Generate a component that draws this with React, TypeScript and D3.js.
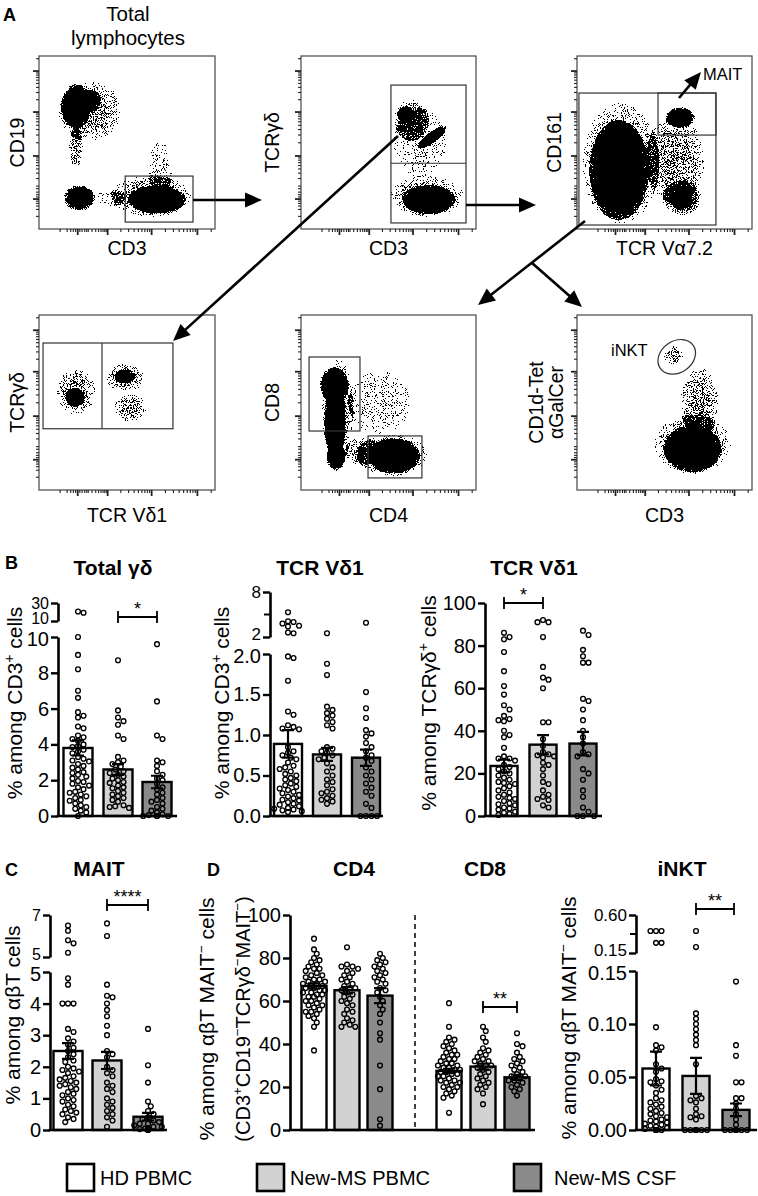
import React, { useRef, useEffect } from "react";
import * as d3 from "d3";

const FONT = "'Liberation Sans', Arial, Helvetica, sans-serif";

// ---- groups / legend ----
const groupNames = ["HD PBMC", "New-MS PBMC", "New-MS CSF"];
const groupFill = ["#ffffff", "#d2d2d2", "#8a8a8a"];

// ---- B: Total γδ (% among CD3+) ----
const gdTotalMean = [3.8, 2.6, 1.9];
const gdTotalSem = [0.42, 0.3, 0.35];
const gdTotalHD = [20.5, 19.2, 10.0, 9.0, 8.2, 7.0, 6.6, 5.8, 5.6, 5.5, 5.0, 4.9, 4.5, 4.4, 4.3, 4.2, 4.0, 3.9, 3.85, 3.7, 3.6, 3.5, 3.3, 3.2, 3.1, 3.05, 2.9, 2.8, 2.7, 2.6, 2.45, 2.4, 2.3, 2.2, 2.1, 1.95, 1.9, 1.8, 1.7, 1.6, 1.5, 1.35, 1.3, 1.2, 1.1, 1.0, 0.9, 0.85, 0.7, 0.6, 0.5, 0.4, 0.3, 0.2, 0.0];
const gdTotalPBMC = [8.7, 5.9, 5.5, 5.3, 5.1, 4.5, 4.3, 3.3, 3.1, 3.0, 2.9, 2.75, 2.6, 2.5, 2.4, 2.3, 2.2, 2.1, 2.0, 1.9, 1.85, 1.7, 1.6, 1.55, 1.4, 1.3, 1.2, 1.1, 1.0, 0.9, 0.8, 0.6, 0.55, 0.5, 0.45];
const gdTotalCSF = [9.6, 6.4, 4.5, 4.3, 3.1, 3.0, 2.8, 2.5, 2.3, 2.1, 2.0, 1.8, 1.6, 1.5, 1.3, 1.2, 1.0, 0.9, 0.8, 0.7, 0.5, 0.4, 0.3, 0.2, 0.1, 0.05, 0, 0, 0, 0];

// ---- B: TCR Vδ1 (% among CD3+) ----
const vd1Cd3Mean = [0.89, 0.76, 0.72];
const vd1Cd3Sem = [0.17, 0.08, 0.1];
const vd1Cd3HD = [5.3, 4.1, 4.0, 3.8, 3.5, 3.4, 2.6, 2.5, 1.97, 1.95, 1.67, 1.29, 1.25, 1.12, 1.1, 1.08, 1.07, 0.85, 0.8, 0.78, 0.75, 0.72, 0.7, 0.66, 0.62, 0.6, 0.58, 0.55, 0.52, 0.5, 0.47, 0.45, 0.43, 0.4, 0.38, 0.36, 0.34, 0.32, 0.3, 0.28, 0.26, 0.24, 0.22, 0.2, 0.19, 0.17, 0.15, 0.14, 0.12, 0.1, 0.09, 0.08, 0.07, 0.06, 0.05];
const vd1Cd3PBMC = [2.5, 1.88, 1.74, 1.35, 1.31, 1.27, 1.24, 1.2, 1.16, 1.12, 1.08, 0.85, 0.83, 0.8, 0.78, 0.75, 0.72, 0.7, 0.65, 0.6, 0.55, 0.5, 0.45, 0.42, 0.38, 0.33, 0.3, 0.28, 0.25, 0.22, 0.2, 0.18, 0.15];
const vd1Cd3CSF = [3.9, 1.53, 1.33, 1.21, 1.06, 1.02, 0.98, 0.9, 0.85, 0.8, 0.75, 0.72, 0.68, 0.6, 0.55, 0.5, 0.45, 0.4, 0.35, 0.3, 0.25, 0.15, 0.1, 0, 0, 0, 0];

// ---- B: TCR Vδ1 (% among TCRγδ+) ----
const vd1GdMean = [23.5, 33.5, 34];
const vd1GdSem = [3, 4.5, 5.5];
const vd1GdHD = [86, 84, 83, 77, 68, 61, 57, 52, 50, 47, 45.5, 45, 44.5, 40, 38, 37, 32, 28, 27, 27, 26, 24, 23, 22, 21, 20, 19, 18, 17, 16, 15.5, 15, 14, 13, 12, 11, 10, 9, 8.5, 8, 7, 6, 5.5, 5, 4, 3.5, 3, 2, 1.5, 1, 0.5];
const vd1GdPBMC = [92, 91, 91, 84, 70, 65, 64, 60, 44, 44, 36, 33, 30, 29, 28.5, 28, 27.5, 25, 24, 22, 19, 16, 15, 12, 10, 9, 8, 7.5, 5, 4];
const vd1GdCSF = [87, 85, 78, 75, 72, 72, 55, 54, 50, 45, 40, 37, 34, 30, 29, 28, 22, 20, 17, 12, 9, 4, 2, 0, 0, 0];

// ---- C: MAIT (% among αβT) ----
const maitMean = [2.5, 2.2, 0.42];
const maitSem = [0.25, 0.27, 0.12];
const maitHD = [6.5, 6.25, 5.8, 5.65, 5.2, 4.8, 4.6, 4.0, 4.0, 4.0, 3.2, 3.1, 2.9, 2.8, 2.7, 2.6, 2.5, 2.4, 2.3, 2.2, 2.15, 2.0, 1.95, 1.9, 1.85, 1.8, 1.7, 1.65, 1.6, 1.55, 1.5, 1.45, 1.4, 1.35, 1.3, 1.2, 1.15, 1.1, 1.0, 0.95, 0.9, 0.8, 0.75, 0.65, 0.6, 0.55, 0.5, 0.4, 0.35, 0.25];
const maitPBMC = [6.6, 6.0, 4.6, 4.25, 4.2, 4.0, 3.8, 3.6, 3.3, 3.0, 2.5, 2.4, 2.3, 2.0, 1.9, 1.8, 1.7, 1.5, 1.4, 1.3, 1.2, 1.0, 0.9, 0.8, 0.7, 0.6, 0.5, 0.4, 0.3, 0.1];
const maitCSF = [3.2, 2.05, 1.5, 0.9, 0.75, 0.6, 0.5, 0.4, 0.35, 0.3, 0.25, 0.2, 0.2, 0.15, 0.1, 0.1, 0.05, 0.05, 0.03, 0.02, 0, 0];

// ---- D: CD4 / CD8 (% among αβT MAIT-) ----
const cd4Mean = [67, 65, 62.5];
const cd4Sem = [1.2, 1.5, 3.5];
const cd4HD = [89, 84, 82, 80, 79, 78, 77, 76, 75, 75, 74, 73, 72, 72, 71, 70, 70, 69, 69, 68, 68, 67, 67, 66, 66, 65, 65, 64, 64, 63, 63, 62, 62, 61, 60, 60, 59, 58, 58, 57, 56, 55, 55, 54, 53, 52, 50, 48, 37];
const cd4PBMC = [85, 77, 76, 76, 75, 74, 73, 72, 71, 70, 69, 68, 67, 66, 66, 65, 64, 63, 62, 61, 60, 59, 58, 56, 55, 54, 52, 51, 50, 49, 48, 48];
const cd4CSF = [82, 80, 79, 78, 77, 76, 75, 74, 73, 72, 71, 70, 69, 68, 66, 65, 64, 62, 60, 58, 56, 54, 50, 45, 42, 30, 19, 5, 2];
const cd8Mean = [27.5, 29.5, 24.5];
const cd8Sem = [1.0, 1.4, 1.2];
const cd8HD = [59, 48, 43, 42, 41, 40, 39, 38, 37, 36, 35, 35, 34, 33, 33, 32, 31, 31, 30, 30, 29, 29, 28, 28, 27, 27, 26, 26, 25, 25, 24, 23, 23, 22, 22, 21, 20, 20, 19, 18, 17, 16, 15, 8];
const cd8PBMC = [48, 46, 43, 41, 38, 37, 36, 35, 34, 33, 32, 32, 31, 30, 30, 29, 28, 27, 26, 25, 24, 23, 22, 21, 20, 19, 17, 12];
const cd8CSF = [45, 40, 39, 36, 34, 33, 32, 31, 30, 29, 28, 27, 26, 25, 25, 24, 23, 23, 22, 21, 20, 19, 18, 16];

// ---- D: iNKT (% among αβT MAIT-) ----
const inktMean = [0.058, 0.051, 0.019];
const inktSem = [0.016, 0.017, 0.006];
const inktHD = [0.41, 0.41, 0.41, 0.27, 0.27, 0.097, 0.08, 0.078, 0.075, 0.062, 0.058, 0.055, 0.048, 0.046, 0.045, 0.042, 0.038, 0.035, 0.03, 0.028, 0.026, 0.024, 0.022, 0.02, 0.018, 0.016, 0.015, 0.013, 0.012, 0.01, 0.009, 0.008, 0.007, 0.006, 0.005, 0.004, 0.003, 0.002, 0.001, 0, 0, 0, 0, 0];
const inktPBMC = [0.41, 0.22, 0.11, 0.105, 0.1, 0.095, 0.09, 0.085, 0.08, 0.062, 0.032, 0.03, 0.028, 0.026, 0.02, 0.015, 0.013, 0.012, 0.01, 0, 0, 0, 0, 0, 0, 0, 0, 0];
const inktCSF = [0.14, 0.08, 0.07, 0.045, 0.045, 0.03, 0.03, 0.025, 0.02, 0.015, 0.01, 0.005, 0, 0, 0, 0, 0, 0, 0, 0, 0];

// ---- A: flow populations (fractions of each plot, y from bottom) ----
type Pop = { x: number; y: number; rx: number; ry: number; rot?: number; k: "d" | "m" | "s" | "f" };
const cd19Pops: Pop[] = [
  { x: 0.29, y: 0.68, rx: 0.18, ry: 0.17, rot: -15, k: "s" },
  { x: 0.21, y: 0.47, rx: 0.04, ry: 0.12, k: "s" },
  { x: 0.21, y: 0.71, rx: 0.085, ry: 0.13, k: "d" },
  { x: 0.29, y: 0.74, rx: 0.06, ry: 0.065, k: "m" },
  { x: 0.23, y: 0.18, rx: 0.09, ry: 0.075, k: "d" },
  { x: 0.64, y: 0.19, rx: 0.23, ry: 0.12, k: "s" },
  { x: 0.69, y: 0.35, rx: 0.07, ry: 0.15, k: "f" },
  { x: 0.41, y: 0.18, rx: 0.08, ry: 0.05, k: "f" },
  { x: 0.67, y: 0.17, rx: 0.165, ry: 0.08, k: "d" },
];
const gdCd3Pops: Pop[] = [
  { x: 0.72, y: 0.19, rx: 0.21, ry: 0.12, k: "s" },
  { x: 0.73, y: 0.17, rx: 0.15, ry: 0.085, k: "d" },
  { x: 0.68, y: 0.5, rx: 0.15, ry: 0.2, k: "f" },
  { x: 0.63, y: 0.63, rx: 0.1, ry: 0.12, k: "s" },
  { x: 0.6, y: 0.66, rx: 0.05, ry: 0.05, k: "m" },
  { x: 0.75, y: 0.53, rx: 0.1, ry: 0.032, rot: -36, k: "d" },
];
const maitPops: Pop[] = [
  { x: 0.25, y: 0.38, rx: 0.22, ry: 0.35, k: "s" },
  { x: 0.56, y: 0.4, rx: 0.17, ry: 0.25, k: "s" },
  { x: 0.24, y: 0.34, rx: 0.17, ry: 0.29, k: "d" },
  { x: 0.59, y: 0.645, rx: 0.085, ry: 0.06, k: "d" },
  { x: 0.6, y: 0.18, rx: 0.11, ry: 0.1, k: "m" },
  { x: 0.6, y: 0.17, rx: 0.06, ry: 0.05, k: "d" },
];
const vd1Pops: Pop[] = [
  { x: 0.21, y: 0.56, rx: 0.11, ry: 0.13, k: "s" },
  { x: 0.205, y: 0.53, rx: 0.055, ry: 0.055, k: "d" },
  { x: 0.49, y: 0.64, rx: 0.11, ry: 0.08, k: "s" },
  { x: 0.49, y: 0.65, rx: 0.06, ry: 0.04, k: "m" },
  { x: 0.52, y: 0.47, rx: 0.09, ry: 0.08, k: "s" },
];
const cd4cd8Pops: Pop[] = [
  { x: 0.21, y: 0.45, rx: 0.09, ry: 0.3, k: "s" },
  { x: 0.35, y: 0.22, rx: 0.1, ry: 0.08, k: "s" },
  { x: 0.52, y: 0.2, rx: 0.2, ry: 0.12, k: "s" },
  { x: 0.45, y: 0.5, rx: 0.18, ry: 0.18, k: "f" },
  { x: 0.19, y: 0.6, rx: 0.085, ry: 0.1, k: "d" },
  { x: 0.195, y: 0.39, rx: 0.06, ry: 0.22, k: "d" },
  { x: 0.2, y: 0.19, rx: 0.055, ry: 0.08, k: "d" },
  { x: 0.53, y: 0.195, rx: 0.15, ry: 0.1, k: "d" },
];
const nktPops: Pop[] = [
  { x: 0.66, y: 0.26, rx: 0.22, ry: 0.17, k: "s" },
  { x: 0.7, y: 0.5, rx: 0.11, ry: 0.2, k: "s" },
  { x: 0.55, y: 0.77, rx: 0.055, ry: 0.055, k: "s" },
  { x: 0.66, y: 0.235, rx: 0.165, ry: 0.135, k: "d" },
];

// flow axis decades (fraction of plot)
const flowMajorX = [0.22, 0.39, 0.64, 0.9];
const flowMajorY = [0.173, 0.422, 0.676, 0.913];

type Gate =
  | { t: "rect"; x: [number, number]; y: [number, number] }
  | { t: "line"; x: [number, number]; y: [number, number] }
  | { t: "ellipse"; cx: number; cy: number; rx: number; ry: number; rot: number };

type Flow = {
  x0: number; y0: number; w: number; h: number;
  pops: Pop[]; gates: Gate[];
  xLabel: string; xLabelY: number;
  yLabel: string[]; yLabelX: number[];
};

type Seg = { domain: [number, number]; range: [number, number]; ticks: number[]; fmt: string; minor?: number[]; size?: number };
type BarSet = { centers: number[]; means: number[]; sems: number[]; points: number[][] };
type Sig = { a: number; b: number; y: number; label: string };
type Panel = { axisX: number; baseY: number; xEnd: number; barW: number; lower: Seg; upper?: Seg; sets: BarSet[]; sigs: Sig[] };

type Sel = d3.Selection<any, any, any, any>;
type Part = [string, ("sup" | "norm")?];

function rich(t: Sel, parts: Part[], size: number) {
  let shift = 0;
  parts.forEach(([s, k]) => {
    const target = k === "sup" ? -0.4 * size : 0;
    t.append("tspan")
      .attr("dy", target - shift)
      .attr("font-size", k === "sup" ? size * 0.66 : size)
      .text(s);
    shift = target;
  });
}

function vLabel(svg: Sel, cx: number, cy: number, parts: Part[], size: number) {
  const t = svg
    .append("text")
    .attr("transform", `translate(${cx},${cy}) rotate(-90)`)
    .attr("y", size * 0.35)
    .attr("text-anchor", "middle")
    .attr("font-size", size);
  rich(t, parts, size);
}

function swarm(vals: number[], yOf: (v: number) => number, cx: number, r: number, half: number) {
  const placed: [number, number][] = [];
  const step = r * 1.15;
  [...vals].sort((a, b) => b - a).forEach((v) => {
    const y = yOf(v);
    let best = cx;
    for (let k = 0; k < 30; k++) {
      const off = k === 0 ? 0 : Math.ceil(k / 2) * step * (k % 2 ? 1 : -1);
      if (Math.abs(off) > half) continue;
      const x = cx + off;
      if (placed.every(([px, py]) => Math.hypot(px - x, py - y) >= 2 * r + 0.3)) {
        best = x;
        break;
      }
    }
    placed.push([best, y]);
  });
  return placed;
}

function drawPanel(root: Sel, p: Panel) {
  const lower = d3.scaleLinear().domain(p.lower.domain).range(p.lower.range);
  const upper = p.upper ? d3.scaleLinear().domain(p.upper.domain).range(p.upper.range) : null;
  const yOf = (v: number) => (upper && v > p.lower.domain[1] ? upper(v) : lower(v));
  const g = root.append("g");

  // bars
  p.sets.forEach((s) =>
    s.means.forEach((m, i) => {
      g.append("rect")
        .attr("x", s.centers[i] - p.barW / 2)
        .attr("y", yOf(m))
        .attr("width", p.barW)
        .attr("height", p.baseY - yOf(m))
        .attr("fill", groupFill[i])
        .attr("stroke", "#000")
        .attr("stroke-width", 2.4);
    })
  );
  // individual values
  p.sets.forEach((s) =>
    s.points.forEach((vals, i) => {
      swarm(vals, yOf, s.centers[i], 2.4, p.barW / 2 + 1).forEach(([cx, cy]) =>
        g.append("circle")
          .attr("cx", cx)
          .attr("cy", cy)
          .attr("r", 2.4)
          .attr("fill", "none")
          .attr("stroke", "#000")
          .attr("stroke-width", 1.35)
      );
    })
  );
  // mean ± sem
  p.sets.forEach((s) =>
    s.means.forEach((m, i) => {
      const cx = s.centers[i];
      const top = yOf(m + s.sems[i]);
      const bot = yOf(Math.max(0, m - s.sems[i]));
      g.append("path")
        .attr("d", `M${cx},${top}V${bot}M${cx - 6},${top}H${cx + 6}M${cx - 6},${bot}H${cx + 6}`)
        .attr("stroke", "#000")
        .attr("stroke-width", 2.2)
        .attr("fill", "none");
    })
  );

  // y axis (possibly broken): the labels next to the break are nudged apart
  const axis = (sc: d3.ScaleLinear<number, number>, seg: Seg, nudge: number, nudgeValue: number) => {
    const ax = g
      .append("g")
      .attr("transform", `translate(${p.axisX},0)`)
      .call(
        d3.axisLeft(sc)
          .tickValues(seg.ticks)
          .tickFormat(d3.format(seg.fmt) as any)
          .tickSize(7)
          .tickSizeOuter(0)
          .tickPadding(2)
      );
    ax.attr("font-size", seg.size || 20).attr("font-family", FONT);
    ax.select(".domain").attr("stroke-width", 2.6);
    ax.selectAll(".tick line").attr("stroke-width", 2.4);
    if (nudge) ax.selectAll<SVGGElement, number>(".tick").filter((d) => d === nudgeValue).select("text").attr("y", nudge);
    (seg.minor || []).forEach((v) =>
      ax.append("line")
        .attr("x1", -6)
        .attr("x2", 0)
        .attr("y1", sc(v))
        .attr("y2", sc(v))
        .attr("stroke", "#000")
        .attr("stroke-width", 2)
    );
  };
  axis(lower, p.lower, upper ? 2 : 0, p.lower.domain[1]);
  if (upper && p.upper) axis(upper, p.upper, -3, p.upper.domain[0]);

  g.append("line")
    .attr("x1", p.axisX - 1.3)
    .attr("x2", p.xEnd)
    .attr("y1", p.baseY)
    .attr("y2", p.baseY)
    .attr("stroke", "#000")
    .attr("stroke-width", 2.6);

  p.sigs.forEach((s) => {
    g.append("path")
      .attr("d", `M${s.a},${s.y - 6}V${s.y + 6}M${s.a},${s.y}H${s.b}M${s.b},${s.y - 6}V${s.y + 6}`)
      .attr("stroke", "#000")
      .attr("stroke-width", 1.8)
      .attr("fill", "none");
    g.append("text")
      .attr("x", (s.a + s.b) / 2)
      .attr("y", s.y - 2)
      .attr("text-anchor", "middle")
      .attr("font-size", 18)
      .text(s.label);
  });
}

function flowTicks(major: number[]) {
  const minor: number[] = [];
  for (let i = 0; i < major.length - 1; i++) {
    const a = major[i];
    const b = major[i + 1];
    for (let k = 2; k < 10; k++) minor.push(a + (b - a) * Math.log10(k));
  }
  const a0 = major[0];
  [-0.1, -0.06, -0.04, -0.025, -0.012, 0.012, 0.025, 0.04, 0.06].forEach((o) => minor.push(a0 + o));
  const last = major[major.length - 1];
  const span = last - major[major.length - 2];
  for (let k = 2; k < 10; k++) {
    const v = last + span * Math.log10(k);
    if (v < 0.99) minor.push(v);
  }
  return minor.filter((v) => v > 0.01 && v < 0.99);
}

function drawFlow(svg: Sel, defs: Sel, f: Flow, idx: number) {
  const x = d3.scaleLinear().domain([0, 1]).range([f.x0, f.x0 + f.w]);
  const y = d3.scaleLinear().domain([0, 1]).range([f.y0 + f.h, f.y0]);
  const clipId = `flowclip${idx}`;
  defs.append("clipPath").attr("id", clipId)
    .append("rect").attr("x", f.x0).attr("y", f.y0).attr("width", f.w).attr("height", f.h);

  const cloud = svg.append("g").attr("clip-path", `url(#${clipId})`)
    .append("g").attr("filter", "url(#speckle)");
  cloud.append("rect").attr("x", f.x0).attr("y", f.y0).attr("width", f.w).attr("height", f.h).attr("fill", "#000").attr("fill-opacity", 0.001);
  f.pops.forEach((p) => {
    const cx = x(p.x);
    const cy = y(p.y);
    cloud.append("ellipse")
      .attr("cx", cx)
      .attr("cy", cy)
      .attr("rx", p.rx * f.w)
      .attr("ry", p.ry * f.h)
      .attr("transform", p.rot ? `rotate(${p.rot},${cx},${cy})` : null)
      .attr("fill", `url(#pop-${p.k})`);
  });

  // gates
  f.gates.forEach((gt) => {
    const base = svg.append("g").attr("fill", "none").attr("stroke", "#333").attr("stroke-width", 1.2);
    if (gt.t === "rect") {
      base.append("rect")
        .attr("x", x(gt.x[0]))
        .attr("y", y(gt.y[1]))
        .attr("width", x(gt.x[1]) - x(gt.x[0]))
        .attr("height", y(gt.y[0]) - y(gt.y[1]));
    } else if (gt.t === "line") {
      base.append("line").attr("x1", x(gt.x[0])).attr("x2", x(gt.x[1])).attr("y1", y(gt.y[0])).attr("y2", y(gt.y[1]));
    } else {
      base.append("ellipse")
        .attr("cx", x(gt.cx))
        .attr("cy", y(gt.cy))
        .attr("rx", gt.rx * f.w)
        .attr("ry", gt.ry * f.h)
        .attr("transform", `rotate(${gt.rot},${x(gt.cx)},${y(gt.cy)})`);
    }
  });

  // frame
  svg.append("rect")
    .attr("x", f.x0).attr("y", f.y0).attr("width", f.w).attr("height", f.h)
    .attr("fill", "none").attr("stroke", "#555").attr("stroke-width", 1.3);

  // ticks
  const tk = svg.append("g").attr("stroke", "#222").attr("stroke-width", 1.1);
  flowMajorY.forEach((v) => tk.append("line").attr("x1", f.x0 - 6).attr("x2", f.x0).attr("y1", y(v)).attr("y2", y(v)).attr("stroke-width", 1.8));
  flowTicks(flowMajorY).forEach((v) => tk.append("line").attr("x1", f.x0 - 3).attr("x2", f.x0).attr("y1", y(v)).attr("y2", y(v)));
  flowMajorX.forEach((v) => tk.append("line").attr("x1", x(v)).attr("x2", x(v)).attr("y1", f.y0 + f.h).attr("y2", f.y0 + f.h + 6).attr("stroke-width", 1.8));
  flowTicks(flowMajorX).forEach((v) => tk.append("line").attr("x1", x(v)).attr("x2", x(v)).attr("y1", f.y0 + f.h).attr("y2", f.y0 + f.h + 3));

  // labels
  svg.append("text")
    .attr("x", f.x0 + f.w / 2)
    .attr("y", f.xLabelY)
    .attr("text-anchor", "middle")
    .attr("font-size", 19.5)
    .text(f.xLabel);
  f.yLabel.forEach((s, i) => vLabel(svg, f.yLabelX[i], f.y0 + f.h / 2, [[s]], 19.5));
}

function arrow(svg: Sel, x1: number, y1: number, x2: number, y2: number) {
  const len = Math.hypot(x2 - x1, y2 - y1);
  const ux = (x2 - x1) / len;
  const uy = (y2 - y1) / len;
  const hl = 17;
  const hw = 7.5;
  const bx = x2 - ux * hl;
  const by = y2 - uy * hl;
  svg.append("line")
    .attr("x1", x1).attr("y1", y1).attr("x2", bx + ux * 2).attr("y2", by + uy * 2)
    .attr("stroke", "#000").attr("stroke-width", 2.6);
  svg.append("path")
    .attr("d", `M${x2},${y2}L${bx - uy * hw},${by + ux * hw}L${bx + uy * hw},${by - ux * hw}Z`)
    .attr("fill", "#000");
}

export default function App() {
  const svgRef = useRef<SVGSVGElement>(null);

  useEffect(() => {
    const svg = d3.select(svgRef.current) as unknown as Sel;
    svg.selectAll("*").remove();
    const defs = svg.append("defs");

    // density gradients for flow populations
    const grads: Record<string, [number, number][]> = {
      d: [[0, 1], [0.6, 1], [0.85, 0.62], [1, 0.38]],
      m: [[0, 0.72], [0.6, 0.6], [1, 0.38]],
      s: [[0, 0.5], [0.6, 0.46], [1, 0.34]],
      f: [[0, 0.4], [1, 0.33]],
    };
    Object.entries(grads).forEach(([k, stops]) => {
      const rg = defs.append("radialGradient").attr("id", `pop-${k}`);
      stops.forEach(([o, a]) => rg.append("stop").attr("offset", o).attr("stop-color", "#000").attr("stop-opacity", a));
    });
    const flt = defs.append("filter").attr("id", "speckle").attr("x", 0).attr("y", 0).attr("width", 1).attr("height", 1)
      .attr("color-interpolation-filters", "sRGB");
    flt.append("feTurbulence").attr("type", "fractalNoise").attr("baseFrequency", 1.1).attr("numOctaves", 2).attr("seed", 4).attr("result", "noise");
    flt.append("feColorMatrix").attr("in", "noise").attr("type", "matrix")
      .attr("values", "0 0 0 0 0  0 0 0 0 0  0 0 0 0 0  1 0 0 0 0").attr("result", "na");
    flt.append("feComposite").attr("in", "SourceGraphic").attr("in2", "na").attr("operator", "arithmetic")
      .attr("k1", 0).attr("k2", 1).attr("k3", -1).attr("k4", 0.5).attr("result", "diff");
    const ct = flt.append("feComponentTransfer").attr("in", "diff").attr("result", "bin");
    ct.append("feFuncA").attr("type", "discrete").attr("tableValues", "0 1");
    flt.append("feColorMatrix").attr("in", "bin").attr("type", "matrix")
      .attr("values", "0 0 0 0 0  0 0 0 0 0  0 0 0 0 0  0 0 0 1 0");

    // ---------- A ----------
    const flows: Flow[] = [
      {
        x0: 39, y0: 56, w: 176, h: 173, pops: cd19Pops,
        gates: [{ t: "rect", x: [0.49, 0.875], y: [0.04, 0.306] }],
        xLabel: "CD3", xLabelY: 255, yLabel: ["CD19"], yLabelX: [17],
      },
      {
        x0: 301, y0: 56, w: 175, h: 173, pops: gdCd3Pops,
        gates: [
          { t: "rect", x: [0.514, 0.943], y: [0.035, 0.832] },
          { t: "line", x: [0.514, 0.943], y: [0.38, 0.38] },
        ],
        xLabel: "CD3", xLabelY: 255, yLabel: ["TCRγδ"], yLabelX: [272],
      },
      {
        x0: 577, y0: 56, w: 175, h: 173, pops: maitPops,
        gates: [
          { t: "rect", x: [0.011, 0.794], y: [0.023, 0.786] },
          { t: "rect", x: [0.463, 0.794], y: [0.543, 0.786] },
        ],
        xLabel: "TCR Vα7.2", xLabelY: 255, yLabel: ["CD161"], yLabelX: [554],
      },
      {
        x0: 39, y0: 315, w: 176, h: 175, pops: vd1Pops,
        gates: [
          { t: "rect", x: [0.023, 0.761], y: [0.35, 0.84] },
          { t: "line", x: [0.358, 0.358], y: [0.35, 0.84] },
        ],
        xLabel: "TCR Vδ1", xLabelY: 522, yLabel: ["TCRγδ"], yLabelX: [17],
      },
      {
        x0: 301, y0: 315, w: 175, h: 175, pops: cd4cd8Pops,
        gates: [
          { t: "rect", x: [0.046, 0.337], y: [0.337, 0.76] },
          { t: "rect", x: [0.383, 0.691], y: [0.069, 0.309] },
        ],
        xLabel: "CD4", xLabelY: 522, yLabel: ["CD8"], yLabelX: [272],
      },
      {
        x0: 577, y0: 315, w: 175, h: 175, pops: nktPops,
        gates: [{ t: "ellipse", cx: 0.57, cy: 0.761, rx: 0.115, ry: 0.09, rot: -35 }],
        xLabel: "CD3", xLabelY: 522, yLabel: ["CD1d-Tet", "αGalCer"], yLabelX: [536, 556],
      },
    ];
    flows.forEach((f, i) => drawFlow(svg, defs, f, i));

    const txt = (x: number, y: number, s: string, size: number, opts: { anchor?: string; bold?: boolean } = {}) =>
      svg.append("text")
        .attr("x", x)
        .attr("y", y)
        .attr("font-size", size)
        .attr("text-anchor", opts.anchor || "start")
        .attr("font-weight", opts.bold ? "bold" : null)
        .text(s);

    txt(3, 21, "A", 18, { bold: true });
    txt(128, 21, "Total", 20.5, { anchor: "middle" });
    txt(128, 45, "lymphocytes", 20.5, { anchor: "middle" });
    txt(703, 80, "MAIT", 16.5);
    txt(611, 356, "iNKT", 16.5);

    arrow(svg, 193, 200, 262, 200);
    arrow(svg, 398, 136, 173, 341);
    arrow(svg, 466, 205, 536, 205);
    arrow(svg, 585, 221, 478, 305);
    arrow(svg, 532, 263, 582, 307);
    arrow(svg, 679, 98, 701, 72);

    // ---------- B ----------
    txt(5, 569, "B", 18, { bold: true });
    txt(113, 575, "Total γδ", 21, { anchor: "middle", bold: true });
    txt(320, 575, "TCR Vδ1", 21, { anchor: "middle", bold: true });
    txt(534, 575, "TCR Vδ1", 21, { anchor: "middle", bold: true });

    drawPanel(svg, {
      axisX: 58, baseY: 816, xEnd: 177, barW: 29,
      lower: { domain: [0, 10], range: [816, 637], ticks: [0, 2, 4, 6, 8, 10], fmt: "d" },
      upper: { domain: [10, 30], range: [621, 603], ticks: [10, 30], fmt: "d", size: 16 },
      sets: [{ centers: [78, 118, 157], means: gdTotalMean, sems: gdTotalSem, points: [gdTotalHD, gdTotalPBMC, gdTotalCSF] }],
      sigs: [{ a: 118, b: 157, y: 617, label: "*" }],
    });
    vLabel(svg, 15, 703, [["% among CD3"], ["+", "sup"], [" cells"]], 21);

    drawPanel(svg, {
      axisX: 270, baseY: 816, xEnd: 383, barW: 28,
      lower: { domain: [0, 2], range: [816, 654], ticks: [0, 0.5, 1, 1.5, 2], fmt: ".1f" },
      upper: { domain: [2, 8], range: [637, 592], ticks: [2, 8], fmt: "d", minor: [5], size: 17 },
      sets: [{ centers: [288, 327, 366], means: vd1Cd3Mean, sems: vd1Cd3Sem, points: [vd1Cd3HD, vd1Cd3PBMC, vd1Cd3CSF] }],
      sigs: [],
    });
    vLabel(svg, 222, 703, [["% among CD3"], ["+", "sup"], [" cells"]], 21);

    drawPanel(svg, {
      axisX: 485, baseY: 816, xEnd: 602, barW: 27,
      lower: { domain: [0, 100], range: [816, 603], ticks: [0, 20, 40, 60, 80, 100], fmt: "d" },
      sets: [{ centers: [504, 543, 583], means: vd1GdMean, sems: vd1GdSem, points: [vd1GdHD, vd1GdPBMC, vd1GdCSF] }],
      sigs: [{ a: 504, b: 543, y: 603, label: "*" }],
    });
    vLabel(svg, 429, 703, [["% among TCRγδ"], ["+", "sup"], [" cells"]], 21);

    // ---------- C ----------
    txt(5, 876, "C", 18, { bold: true });
    txt(99, 876, "MAIT", 21, { anchor: "middle", bold: true });
    drawPanel(svg, {
      axisX: 50, baseY: 1130, xEnd: 167, barW: 29,
      lower: { domain: [0, 5], range: [1130, 972], ticks: [0, 1, 2, 3, 4, 5], fmt: "d" },
      upper: { domain: [5, 7], range: [957, 915], ticks: [5, 7], fmt: "d", size: 16 },
      sets: [{ centers: [68, 107, 148], means: maitMean, sems: maitSem, points: [maitHD, maitPBMC, maitCSF] }],
      sigs: [{ a: 107, b: 148, y: 905, label: "****" }],
    });
    vLabel(svg, 13, 1015, [["% among αβT cells"]], 21);

    // ---------- D ----------
    txt(207, 876, "D", 18, { bold: true });
    txt(354, 876, "CD4", 21, { anchor: "middle", bold: true });
    txt(485, 876, "CD8", 21, { anchor: "middle", bold: true });
    txt(682, 876, "iNKT", 21, { anchor: "middle", bold: true });
    drawPanel(svg, {
      axisX: 290, baseY: 1130, xEnd: 535, barW: 25,
      lower: { domain: [0, 100], range: [1130, 915], ticks: [0, 20, 40, 60, 80, 100], fmt: "d" },
      sets: [
        { centers: [314, 347, 380], means: cd4Mean, sems: cd4Sem, points: [cd4HD, cd4PBMC, cd4CSF] },
        { centers: [449, 483, 517], means: cd8Mean, sems: cd8Sem, points: [cd8HD, cd8PBMC, cd8CSF] },
      ],
      sigs: [{ a: 483, b: 517, y: 1007, label: "**" }],
    });
    svg.append("line")
      .attr("x1", 415).attr("x2", 415).attr("y1", 915).attr("y2", 1130)
      .attr("stroke", "#000").attr("stroke-width", 1.5).attr("stroke-dasharray", "5,4");
    vLabel(svg, 207, 1019, [["% among αβT MAIT"], ["−", "sup"], [" cells"]], 21);
    vLabel(svg, 243, 1019, [["(CD3"], ["+", "sup"], ["CD19"], ["−", "sup"], ["TCRγδ"], ["−", "sup"], ["MAIT"], ["−", "sup"], [")"]], 20);

    drawPanel(svg, {
      axisX: 636, baseY: 1130, xEnd: 757, barW: 27,
      lower: { domain: [0, 0.15], range: [1130, 971], ticks: [0, 0.05, 0.1, 0.15], fmt: ".2f" },
      upper: { domain: [0.15, 0.6], range: [953, 915], ticks: [0.15, 0.6], fmt: ".2f", minor: [0.375], size: 17 },
      sets: [{ centers: [656, 696, 736], means: inktMean, sems: inktSem, points: [inktHD, inktPBMC, inktCSF] }],
      sigs: [{ a: 696, b: 734, y: 909, label: "**" }],
    });
    vLabel(svg, 569, 1018, [["% among αβT MAIT"], ["−", "sup"], [" cells"]], 21);

    // ---------- legend ----------
    const legX = [67, 257, 514];
    const legTextX = [100, 290, 554];
    groupNames.forEach((name, i) => {
      svg.append("rect")
        .attr("x", legX[i]).attr("y", 1164).attr("width", 27).attr("height", 27)
        .attr("fill", groupFill[i]).attr("stroke", "#000").attr("stroke-width", 2.6);
      txt(legTextX[i], 1185, name, 20);
    });
  }, []);

  return (
    <svg
      ref={svgRef}
      width={758}
      height={1196}
      viewBox="0 0 758 1196"
      fontFamily={FONT}
      style={{ position: "absolute", left: 0, top: 0, background: "#fff" }}
    />
  );
}
